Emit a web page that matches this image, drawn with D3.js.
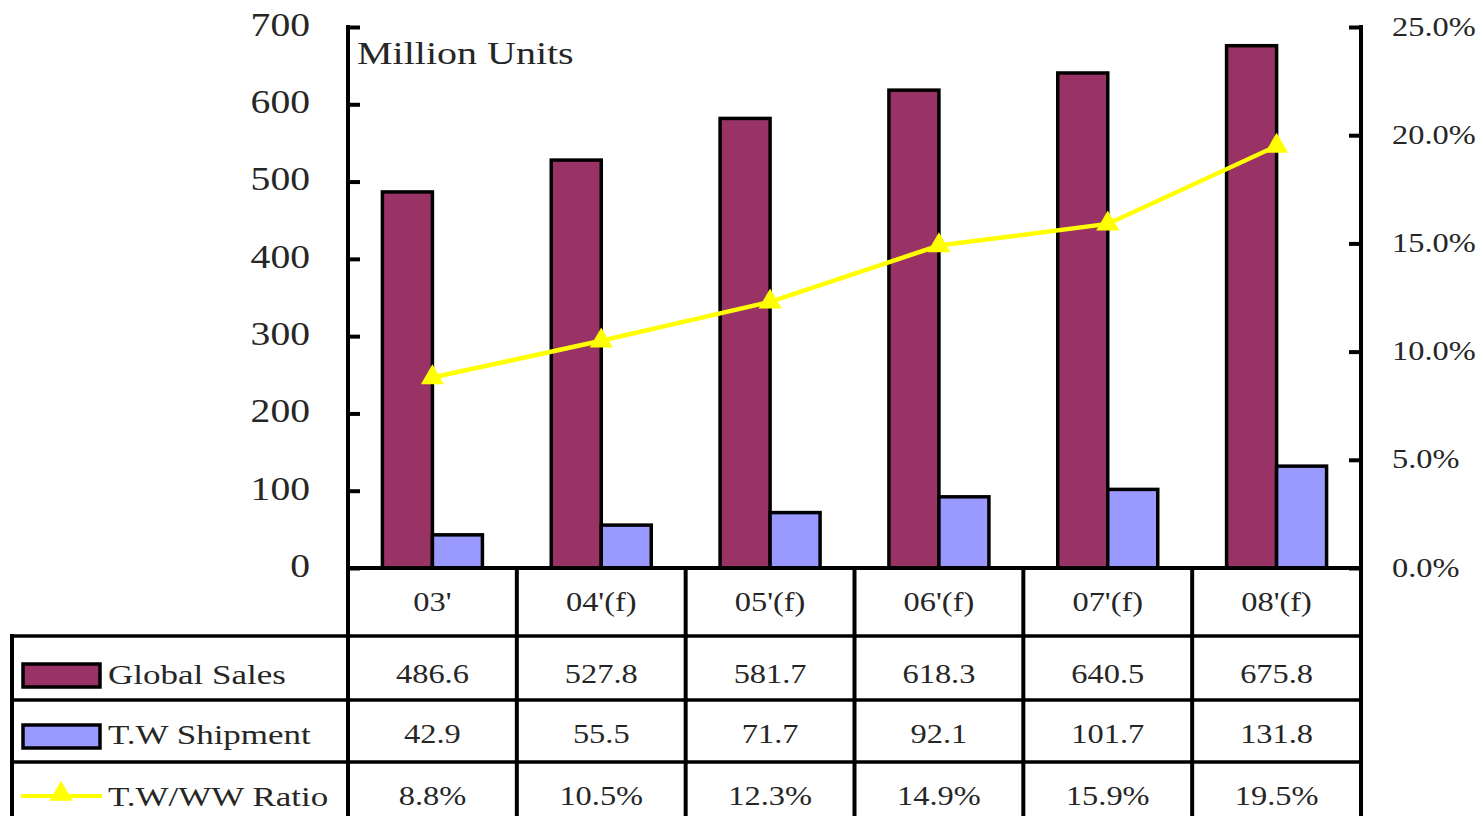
<!DOCTYPE html>
<html>
<head>
<meta charset="utf-8">
<script src="https://cdn.jsdelivr.net/npm/d3@7/dist/d3.min.js"></script>
<style>
  html, body { margin: 0; padding: 0; background: #ffffff; }
  svg { display: block; }
  text { font-family: "Liberation Serif", "DejaVu Serif", serif; fill: #262626; }
</style>
</head>
<body>
<svg id="chart" width="1479" height="816"></svg>
<script>
// ---- data ----
const categories = ["03'", "04'(f)", "05'(f)", "06'(f)", "07'(f)", "08'(f)"];
const globalSales = [486.6, 527.8, 581.7, 618.3, 640.5, 675.8];
const twShipment = [42.9, 55.5, 71.7, 92.1, 101.7, 131.8];
const twRatio = [8.8, 10.5, 12.3, 14.9, 15.9, 19.5];
const leftTicks = [0, 100, 200, 300, 400, 500, 600, 700];
const rightTicks = [0, 5, 10, 15, 20, 25];
const seriesNames = ["Global Sales", "T.W Shipment", "T.W/WW Ratio"];
const seriesColors = ["#993366", "#9999FF", "#FFFF00"];

// ---- layout ----
const svg = d3.select("#chart");
const W = 1479, H = 816;
const plotL = 348, plotR = 1361, plotT = 27, plotB = 568;
const tableLeft = 12;
const rowLines = [568, 636, 700, 762];
const rowCenters = [601, 673, 733, 795];
const SX = 1.2; // horizontal stretch of glyphs

const x = d3.scaleBand().domain(categories).range([plotL, plotR]).padding(0);
const yL = d3.scaleLinear().domain([0, 700]).range([plotB, plotT]);
const yR = d3.scaleLinear().domain([0, 25]).range([plotB, plotT]);
const inner = d3.scaleBand().domain(["g", "s"]).range([-50, 50]).padding(0);

svg.append("rect").attr("width", W).attr("height", H).attr("fill", "#ffffff");

function stext(g, x0, y0, str, size, anchor, sx) {
  return g.append("text")
    .attr("transform", `translate(${x0},${y0}) scale(${sx || SX},1)`)
    .attr("font-size", size)
    .attr("text-anchor", anchor || "start")
    .attr("dominant-baseline", "central")
    .text(str);
}

// ---- bars ----
const bars = svg.append("g");
categories.forEach((c, i) => {
  const cx = x(c) + x.bandwidth() / 2;
  bars.append("rect")
    .attr("x", cx + inner("g"))
    .attr("y", yL(globalSales[i]))
    .attr("width", inner.bandwidth())
    .attr("height", yL(0) - yL(globalSales[i]))
    .attr("fill", seriesColors[0]).attr("stroke", "#000").attr("stroke-width", 3.5);
  bars.append("rect")
    .attr("x", cx + inner("s"))
    .attr("y", yL(twShipment[i]))
    .attr("width", inner.bandwidth())
    .attr("height", yL(0) - yL(twShipment[i]))
    .attr("fill", seriesColors[1]).attr("stroke", "#000").attr("stroke-width", 3.5);
});

// ---- line ----
const linePts = categories.map((c, i) => [x(c) + x.bandwidth() / 2, yR(twRatio[i])]);
svg.append("path")
  .attr("d", d3.line()(linePts))
  .attr("fill", "none").attr("stroke", seriesColors[2]).attr("stroke-width", 4.5);
const tri = d3.symbol().type(d3.symbolTriangle).size(230);
svg.append("g").selectAll("path").data(linePts).join("path")
  .attr("transform", d => `translate(${d[0]},${d[1]})`)
  .attr("d", tri).attr("fill", seriesColors[2]);

// ---- axes ----
const axL = svg.append("g").attr("transform", `translate(${plotL},0)`)
  .call(d3.axisRight(yL).tickValues(leftTicks).tickSize(12).tickSizeOuter(0).tickFormat(""));
axL.select(".domain").remove();
axL.selectAll("line").attr("stroke", "#000").attr("stroke-width", 4);
const axR = svg.append("g").attr("transform", `translate(${plotR},0)`)
  .call(d3.axisLeft(yR).tickValues(rightTicks).tickSize(12).tickSizeOuter(0).tickFormat(""));
axR.select(".domain").remove();
axR.selectAll("line").attr("stroke", "#000").attr("stroke-width", 4);

// axis labels
const lab = svg.append("g");
leftTicks.forEach(v => stext(lab, 310, yL(v) - 2, String(v), 33, "end"));
rightTicks.forEach(v => stext(lab, 1392, yR(v) - 1, v.toFixed(1) + "%", 27, "start"));
stext(lab, 357, 53, "Million Units", 32, "start", 1.25);

// ---- table grid ----
const grid = svg.append("g").attr("stroke", "#000").attr("stroke-linecap", "square");
grid.append("line").attr("x1", plotL).attr("x2", plotL).attr("y1", plotT).attr("y2", H).attr("stroke-width", 4);
grid.append("line").attr("x1", plotR).attr("x2", plotR).attr("y1", plotT).attr("y2", H).attr("stroke-width", 4);
categories.slice(1).forEach(c => {
  grid.append("line").attr("x1", x(c)).attr("x2", x(c)).attr("y1", plotB).attr("y2", H).attr("stroke-width", 4);
});
rowLines.forEach((yy, k) => {
  grid.append("line").attr("x1", k === 0 ? plotL : tableLeft).attr("x2", plotR)
    .attr("y1", yy).attr("y2", yy).attr("stroke-width", k === 0 ? 4 : 3.5);
});
grid.append("line").attr("x1", tableLeft).attr("x2", tableLeft).attr("y1", rowLines[1]).attr("y2", H).attr("stroke-width", 4);

// ---- table text ----
const tt = svg.append("g");
categories.forEach((c, i) => {
  const cx = x(c) + x.bandwidth() / 2;
  stext(tt, cx, rowCenters[0], c, 27, "middle");
  stext(tt, cx, rowCenters[1], globalSales[i].toFixed(1), 27, "middle");
  stext(tt, cx, rowCenters[2], twShipment[i].toFixed(1), 27, "middle");
  stext(tt, cx, rowCenters[3], twRatio[i].toFixed(1) + "%", 27, "middle");
});

// legend keys
const lg = svg.append("g");
lg.append("rect").attr("x", 23).attr("y", 664).attr("width", 77).attr("height", 23)
  .attr("fill", seriesColors[0]).attr("stroke", "#000").attr("stroke-width", 3.5);
lg.append("rect").attr("x", 23).attr("y", 725).attr("width", 77).attr("height", 23)
  .attr("fill", seriesColors[1]).attr("stroke", "#000").attr("stroke-width", 3.5);
lg.append("line").attr("x1", 21).attr("x2", 102).attr("y1", 796).attr("y2", 796)
  .attr("stroke", seriesColors[2]).attr("stroke-width", 4);
lg.append("path").attr("transform", "translate(61,794)").attr("d", tri).attr("fill", seriesColors[2]);
seriesNames.forEach((n, k) => stext(lg, 108, rowCenters[k + 1] + 2, n, 28, "start", 1.25));
</script>
</body>
</html>
